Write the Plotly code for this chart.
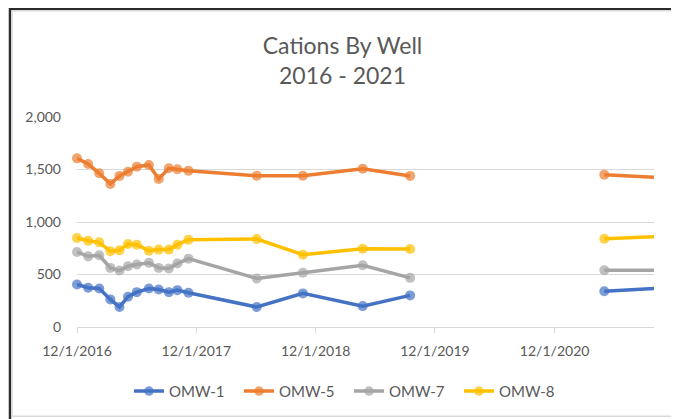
import plotly.graph_objects as go

# Sampling dates (one None row marks the gap in monitoring between 2019 and 2021)
dates = [
    "2016-12-01", "2017-01-04", "2017-02-07", "2017-03-13", "2017-04-10",
    "2017-05-06", "2017-06-02", "2017-07-09", "2017-08-08", "2017-09-08",
    "2017-10-04", "2017-11-07", "2018-06-04", "2018-10-23", "2019-04-24",
    "2019-09-16", "2020-06-01", "2021-05-02", "2021-11-01",
]

omw_1 = [405, 374, 367, 263, 190, 288, 332, 367, 357, 332, 351, 326,
         190, 320, 199, 301, None, 341, 372]
omw_5 = [1606, 1552, 1464, 1363, 1439, 1479, 1527, 1543, 1410, 1512, 1502, 1489,
         1441, 1441, 1508, 1439, None, 1451, 1421]
omw_7 = [715, 673, 683, 563, 538, 579, 595, 611, 563, 557, 604, 651,
         462, 516, 588, 468, None, 541, 541]
omw_8 = [848, 822, 806, 721, 730, 791, 784, 727, 737, 737, 784, 832,
         838, 689, 746, 743, None, 841, 864]

tick_dates = ["2016-12-01", "2017-12-01", "2018-12-01", "2019-12-01", "2020-12-01"]
tick_labels = ["12/1/2016", "12/1/2017", "12/1/2018", "12/1/2019", "12/1/2020"]

x_min, x_max = "2016-12-01", "2021-10-01"

series = [
    ("OMW-1", omw_1, "#4472C4"),
    ("OMW-5", omw_5, "#ED7D31"),
    ("OMW-7", omw_7, "#A5A5A5"),
    ("OMW-8", omw_8, "#FFC000"),
]

FONT = "Lato"
TEXT = "#595959"
GRID = "#D9D9D9"

# The page body has an 8px margin, so the figure sits at (8, 8) in the window.
OFF = 8
W, H = 679 - OFF, 419 - OFF
# plot area in window pixels: x 77..654, y 116.7..327.7
L, R = 77 - OFF, 679 - 654
T, B = 116.7 - OFF, 419 - 327.7
PW, PH = W - L - R, H - T - B


def px_x(px):
    """Window x pixel -> paper coordinate."""
    return (px - OFF - L) / PW


def px_y(py):
    """Window y pixel -> paper coordinate."""
    return (H - B - (py - OFF)) / PH


fig = go.Figure()
for name, values, color in series:
    # Markers beyond the axis max are hidden; the line just runs off the edge.
    sizes = [0 if d > x_max else 10 for d in dates]
    fig.add_scatter(
        x=dates,
        y=values,
        name=name,
        mode="lines+markers",
        line=dict(color=color, width=3.5),
        marker=dict(color=color, size=sizes, line=dict(width=0)),
        connectgaps=False,
        cliponaxis=False,
    )

# Chart frame: dark outer border plus light inner border
fig.add_shape(type="rect", xref="paper", yref="paper",
              x0=px_x(10), x1=px_x(676.5), y0=px_y(8.5), y1=px_y(425),
              line=dict(color="#2B2B2B", width=2.5), layer="below")
fig.add_shape(type="rect", xref="paper", yref="paper",
              x0=px_x(12), x1=px_x(673.5), y0=px_y(10), y1=px_y(417.5),
              line=dict(color=GRID, width=1.5), layer="below")

fig.update_layout(
    width=W,
    height=H,
    margin=dict(l=L, r=R, t=T, b=B),
    paper_bgcolor="white",
    plot_bgcolor="white",
    font=dict(family=FONT, color=TEXT, size=14),
    title=dict(
        text="Cations By Well<br>2016 - 2021",
        font=dict(family=FONT, size=23, color=TEXT),
        x=(342.5 - OFF) / W,
        xanchor="center",
        xref="container",
        y=1 - (54 - OFF) / H,
        yanchor="middle",
        yref="container",
    ),
    showlegend=True,
    legend=dict(
        orientation="h",
        x=px_x(349),
        xanchor="center",
        y=px_y(391),
        yanchor="middle",
        font=dict(family=FONT, size=15, color=TEXT),
        entrywidth=65,
        bgcolor="rgba(0,0,0,0)",
    ),
)

fig.update_xaxes(
    type="date",
    range=[x_min, x_max],
    tickvals=tick_dates,
    ticktext=tick_labels,
    showgrid=False,
    showline=True,
    linecolor=GRID,
    linewidth=1,
    ticks="outside",
    ticklen=5,
    tickcolor=GRID,
    ticklabelstandoff=6,
    tickfont=dict(family=FONT, size=14, color=TEXT),
    zeroline=False,
)
fig.update_yaxes(
    range=[0, 2000],
    tickvals=[0, 500, 1000, 1500, 2000],
    tickformat=",",
    showgrid=True,
    gridcolor=GRID,
    gridwidth=1,
    zeroline=False,
    showline=False,
    ticks="",
    ticklabelstandoff=15,
    tickfont=dict(family=FONT, size=14, color=TEXT),
)

fig.write_html("out.html")
